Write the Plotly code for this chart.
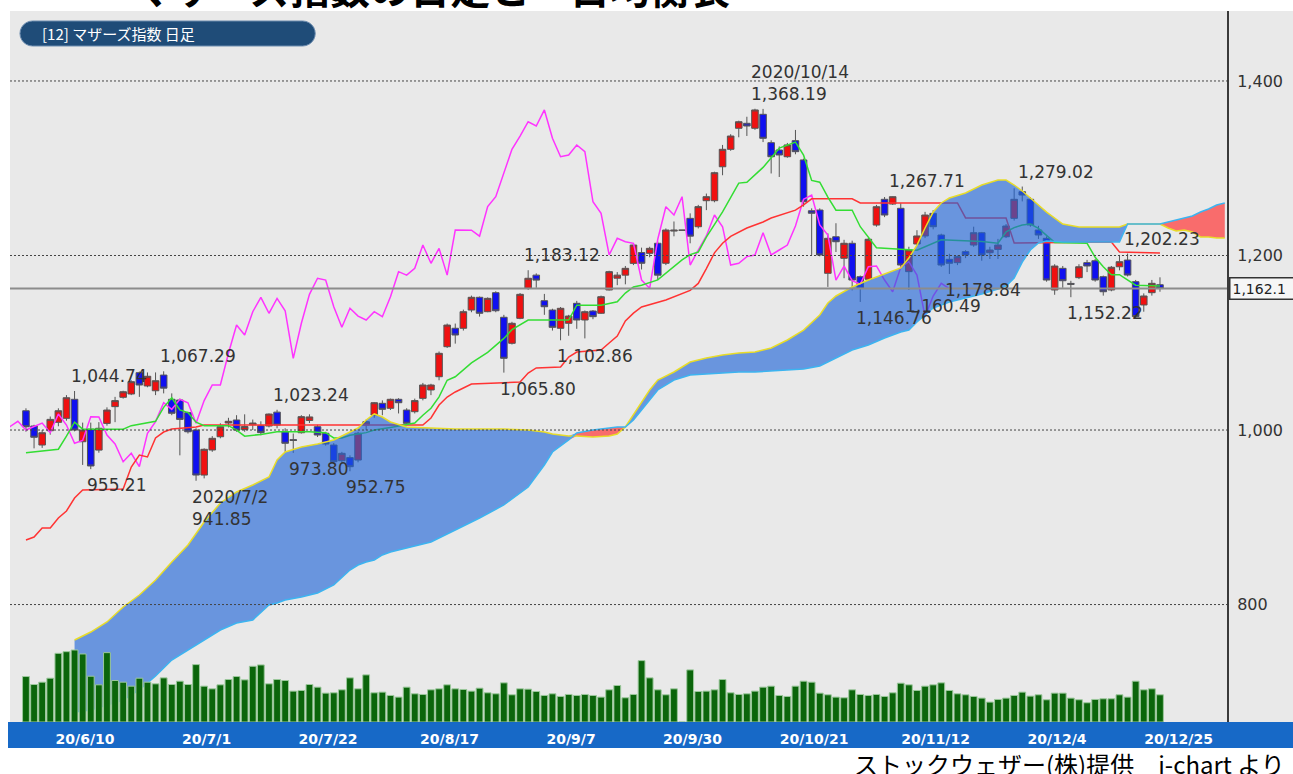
import math
import plotly.graph_objects as go

# ---------------- data ----------------
opens = [
    1022.1, 1004.6, 982.8, 999.2, 1008.8, 1013.4, 1035.2, 986.6, 1001.0, 977.0,
    1007.6, 1026.8, 1037.5, 1041.3, 1065.7, 1050.5, 1045.0, 1063.0, 1035.2, 1034.4,
    1019.9, 1000.0, 948.4, 977.1, 992.3, 1008.0, 1011.5, 1000.5, 1006.0, 1005.0,
    1004.6, 1020.5, 998.0, 989.0, 996.9, 1011.0, 1003.8, 996.3, 982.8, 964.8,
    968.4, 965.6, 1005.7, 1017.2, 1030.6, 1024.9, 1035.2, 1022.9, 1021.0, 1036.3,
    1045.9, 1061.1, 1095.5, 1116.6, 1116.6, 1137.5, 1152.1, 1135.6, 1157.4, 1129.2,
    1099.4, 1128.0, 1162.4, 1177.5, 1148.2, 1137.5, 1116.6, 1122.3, 1145.2, 1126.1,
    1136.4, 1133.8, 1160.5, 1174.0, 1177.5, 1191.0, 1203.3, 1202.5, 1214.0, 1191.1,
    1228.0, 1229.0, 1242.6, 1233.0, 1262.8, 1262.8, 1301.7, 1321.7, 1345.8, 1351.5,
    1345.8, 1361.8, 1329.3, 1320.9, 1313.2, 1331.6, 1309.5, 1251.3, 1252.1, 1179.6,
    1221.5, 1196.8, 1214.0, 1175.7, 1172.8, 1234.9, 1264.4, 1259.0, 1254.1, 1181.5,
    1213.2, 1222.4, 1248.3, 1223.5, 1195.6, 1191.8, 1204.4, 1212.0, 1226.1, 1203.2,
    1207.0, 1221.5, 1242.6, 1273.1, 1264.4, 1229.2, 1219.7, 1160.5, 1185.3, 1168.0,
    1174.6, 1191.8, 1194.0, 1175.7, 1160.5, 1187.1, 1194.8, 1170.0, 1143.3, 1157.4,
    1166.5]
highs = [
    1024.9, 1006.0, 1000.0, 1015.5, 1024.9, 1040.0, 1044.74, 1008.5, 1008.5, 1009.0,
    1026.0, 1038.0, 1045.0, 1057.0, 1067.0, 1066.0, 1066.0, 1067.29, 1042.0, 1036.0,
    1021.0, 1002.0, 979.0, 993.0, 1007.7, 1014.0, 1017.0, 1018.0, 1012.0, 1010.0,
    1019.0, 1023.24, 1002.0, 996.0, 1017.0, 1018.0, 1006.0, 998.0, 985.0, 975.0,
    971.0, 998.0, 1012.0, 1032.0, 1034.0, 1036.0, 1036.5, 1025.0, 1036.0, 1054.0,
    1053.0, 1090.0, 1122.0, 1122.0, 1138.0, 1154.0, 1153.0, 1152.0, 1159.0, 1132.0,
    1124.0, 1157.0, 1183.12, 1179.5, 1156.0, 1139.0, 1141.0, 1132.0, 1148.0, 1137.0,
    1137.5, 1154.0, 1182.5, 1181.0, 1188.0, 1214.0, 1209.0, 1210.0, 1216.0, 1231.0,
    1239.0, 1229.0, 1248.3, 1258.0, 1271.0, 1296.0, 1326.7, 1339.0, 1354.5, 1359.0,
    1368.19, 1368.0, 1332.0, 1325.0, 1329.0, 1343.9, 1311.0, 1254.0, 1254.0, 1225.4,
    1237.0, 1218.0, 1217.0, 1177.0, 1220.0, 1258.0, 1267.0, 1267.71, 1260.0, 1210.0,
    1229.0, 1250.0, 1252.0, 1225.0, 1202.0, 1200.0, 1206.0, 1233.0, 1227.0, 1210.0,
    1219.0, 1236.0, 1277.0, 1279.02, 1267.0, 1234.0, 1222.0, 1190.0, 1188.0, 1171.0,
    1190.0, 1195.0, 1196.0, 1177.0, 1188.0, 1200.6, 1202.23, 1172.0, 1156.6, 1172.0,
    1175.0]
lows = [
    998.1, 979.0, 979.5, 994.7, 1004.3, 1010.7, 998.5, 960.0, 955.21, 974.0,
    1005.0, 1009.0, 1036.0, 1040.0, 1038.0, 1049.0, 1040.0, 1042.0, 1017.0, 971.0,
    996.0, 941.85, 944.6, 975.0, 990.5, 1003.0, 998.0, 998.0, 1000.0, 994.0,
    1003.0, 1002.0, 975.0, 973.80, 996.0, 1008.0, 992.0, 982.0, 961.0, 962.0,
    952.75, 963.0, 1000.0, 1014.0, 1017.0, 1023.0, 1019.0, 1006.0, 1019.0, 1034.0,
    1040.0, 1057.0, 1094.0, 1099.0, 1114.0, 1135.0, 1130.0, 1135.0, 1135.0, 1065.80,
    1098.0, 1127.0, 1160.5, 1163.0, 1132.0, 1114.0, 1102.86, 1108.0, 1116.0, 1105.0,
    1127.0, 1133.0, 1160.0, 1166.0, 1167.0, 1189.0, 1184.0, 1198.0, 1171.9, 1189.0,
    1222.0, 1229.0, 1214.0, 1231.0, 1252.0, 1261.0, 1292.0, 1320.0, 1335.5, 1337.0,
    1344.0, 1330.0, 1294.0, 1290.0, 1312.0, 1316.0, 1256.0, 1200.6, 1199.0, 1164.0,
    1204.0, 1174.0, 1160.0, 1146.76, 1171.0, 1233.0, 1244.0, 1258.0, 1185.0, 1160.49,
    1212.0, 1220.0, 1230.0, 1187.0, 1178.84, 1189.0, 1197.0, 1210.0, 1194.0, 1196.0,
    1196.0, 1220.0, 1240.0, 1262.0, 1233.0, 1219.0, 1170.0, 1155.0, 1163.0, 1152.22,
    1173.0, 1181.0, 1170.0, 1154.0, 1159.0, 1183.0, 1176.0, 1128.0, 1135.6, 1154.0,
    1158.5]
closes = [
    1003.8, 991.7, 996.9, 1012.2, 1022.1, 1037.0, 1000.0, 1000.0, 958.8, 1002.0,
    1022.9, 1033.7, 1043.9, 1055.4, 1051.6, 1061.6, 1056.5, 1048.0, 1019.2, 1012.2,
    998.0, 948.4, 977.9, 990.5, 1003.8, 1010.0, 1000.0, 1004.0, 1008.0, 997.0,
    1018.3, 1005.7, 984.8, 988.0, 1015.3, 1015.0, 994.3, 984.0, 963.7, 973.3,
    958.0, 996.3, 1009.6, 1031.3, 1023.7, 1035.2, 1031.3, 1007.7, 1033.7, 1051.6,
    1051.6, 1087.9, 1120.3, 1108.9, 1135.6, 1152.1, 1133.8, 1150.9, 1136.7, 1082.2,
    1122.3, 1155.5, 1173.9, 1171.8, 1141.3, 1117.7, 1139.5, 1130.6, 1126.1, 1135.6,
    1129.9, 1152.8, 1181.5, 1177.5, 1185.3, 1212.0, 1191.1, 1208.2, 1177.5, 1229.2,
    1229.0, 1229.0, 1222.2, 1256.0, 1267.4, 1294.9, 1321.7, 1336.9, 1353.3, 1348.4,
    1366.8, 1334.3, 1313.2, 1315.2, 1326.7, 1319.0, 1261.6, 1248.4, 1200.6, 1219.7,
    1215.8, 1214.0, 1171.9, 1162.4, 1218.6, 1255.9, 1246.4, 1267.4, 1189.1, 1206.3,
    1222.4, 1246.4, 1233.0, 1189.1, 1191.1, 1198.7, 1200.6, 1226.1, 1200.6, 1206.3,
    1212.0, 1233.8, 1264.4, 1269.3, 1235.0, 1223.5, 1171.9, 1187.9, 1171.1, 1167.0,
    1187.1, 1188.0, 1171.9, 1158.5, 1186.5, 1192.9, 1177.6, 1130.0, 1153.6, 1168.1,
    1162.1]
volume = [
    137, 113, 120, 132, 207, 212, 217, 205, 138, 112,
    209, 125, 120, 108, 132, 120, 115, 133, 113, 123,
    113, 173, 108, 100, 112, 128, 137, 127, 168, 172,
    115, 128, 125, 93, 95, 113, 105, 87, 88, 97,
    133, 100, 142, 88, 90, 80, 75, 105, 85, 83,
    97, 100, 112, 100, 98, 93, 102, 88, 85, 118,
    82, 100, 99, 92, 80, 85, 77, 83, 80, 83,
    80, 75, 97, 110, 73, 83, 185, 133, 97, 82,
    100, 0, 157, 92, 93, 97, 128, 88, 83, 85,
    93, 105, 108, 80, 77, 108, 123, 120, 87, 82,
    75, 73, 97, 83, 80, 83, 77, 88, 117, 112,
    95, 108, 112, 118, 95, 85, 82, 77, 72, 60,
    68, 72, 80, 90, 78, 82, 67, 87, 87, 72,
    67, 58, 68, 70, 70, 82, 75, 123, 97, 100,
    82]

# 転換線 (tenkan) and 基準線 (kijun): (day index, value)
tenkan = [(0, 974), (4, 978), (5, 993), (6, 1009), (7, 1001), (12, 1001), (13, 1005),
          (16, 1010), (17, 1026), (18, 1037), (19, 1023), (20, 1020), (21, 1009), (22, 1005),
          (25, 1005), (26, 1000), (27, 993), (29, 995), (31, 998), (35, 998), (37, 997),
          (38, 991), (39, 991), (40, 994), (42, 997), (43, 1000), (45, 1003), (48, 1008),
          (49, 1017), (50, 1025), (51, 1038), (52, 1057), (53, 1061), (55, 1077), (57, 1089),
          (59, 1105), (60, 1115), (62, 1126), (67, 1126), (68, 1143), (71, 1143), (73, 1147),
          (74, 1157), (75, 1164), (76, 1166), (78, 1172), (81, 1195), (82, 1201), (83, 1204),
          (84, 1221), (86, 1250), (88, 1283), (89, 1284), (91, 1301), (93, 1323), (95, 1330),
          (96, 1315), (97, 1286), (98, 1284), (99, 1267), (100, 1252), (102, 1252), (103, 1233),
          (105, 1209), (110, 1206), (111, 1210), (113, 1218), (118, 1216), (120, 1214),
          (121, 1227), (122, 1232), (123, 1235), (124, 1236), (125, 1231), (127, 1215),
          (131, 1214), (132, 1198), (133, 1187), (134, 1178), (135, 1178), (137, 1166), (140, 1165)]
kijun = [(0, 874.0), (1, 877.4), (2, 887.7), (3, 887.7), (4, 899.2), (5, 907.2), (6, 922.1),
         (7, 931.3), (12, 932.4), (13, 957.6), (14, 971.4), (15, 969.1), (16, 990.9), (17, 997.7),
         (18, 1001.2), (21, 1003.5), (22, 1005.8), (49, 1005.8), (50, 1013.8), (51, 1028.7),
         (52, 1037.8), (53, 1043.6), (55, 1052.7), (61, 1055.0), (62, 1065.3), (63, 1071.1),
         (66, 1072.2), (67, 1083.7), (68, 1089.4), (71, 1091.7), (72, 1099.7), (73, 1107.7),
         (74, 1125.0), (75, 1134.0), (76, 1141.0), (79, 1149.0), (82, 1160.0), (83, 1168.0),
         (84, 1185.0), (85, 1203.0), (86, 1214.0), (87, 1222.0), (89, 1231.5), (91, 1238.4),
         (92, 1243.0), (94, 1248.7), (95, 1252.0), (96, 1258.0), (97, 1265.0), (102, 1265.0),
         (103, 1260.2), (115, 1260.2), (116, 1243.0), (121, 1243.0), (122, 1214.3),
         (134, 1215.5), (135, 1204.0), (140, 1202.9)]

# 先行スパン A / B (already shifted forward on the day index)
cloud_idx = [6, 8, 10, 12, 14, 16, 18, 20, 22, 24, 26, 28, 30, 31, 32, 34, 36, 38, 40, 41,
             42, 43, 44, 45, 47, 50, 53, 56, 59, 62, 64, 65, 67, 68, 70, 72, 73, 74, 75, 76,
             77, 78, 80, 82, 84, 86, 88, 90, 92, 94, 96, 98, 99, 100, 102, 104, 106, 108, 109, 110,
             111, 112, 113, 114, 116, 118, 120, 121, 122, 123, 124, 125, 126, 128, 130, 132, 134, 135, 136, 138,
             140, 141, 142, 143, 144, 145, 146, 147, 148]
senkou_a = [759.4, 768.5, 780.0, 797.2, 810.9, 828.1, 848.7, 868.2, 894.6, 916.4,
            929.0, 937.0, 946.2, 965.6, 974.8, 980.5, 984.0, 988.6, 997.7, 1002.3,
            1011.5, 1018.4, 1014.9, 1009.2, 1003.5, 1002.3, 1001.2, 1001.2, 1001.2, 1000.0,
            997.7, 995.4, 993.1, 993.1, 992.0, 993.1, 995.4, 1003.5, 1017.2, 1032.1,
            1045.9, 1057.3, 1066.5, 1077.9, 1082.5, 1086.0, 1088.3, 1089.4, 1094.0, 1103.2,
            1114.6, 1131.8, 1145.6, 1153.6, 1163.9, 1171.9, 1178.8, 1185.7, 1197.1, 1212.0,
            1231.5, 1249.8, 1260.2, 1265.9, 1271.6, 1280.8, 1286.5, 1286.5, 1280.8, 1273.9,
            1265.9, 1257.9, 1249.8, 1236.1, 1232.7, 1232.7, 1232.7, 1232.7, 1236.1, 1236.1,
            1236.1, 1231.5, 1228.1, 1229.2, 1226.9, 1221.2, 1221.2, 1220.1, 1220.1]
senkou_b = [676.8, 679.1, 684.9, 690.6, 702.1, 718.1, 736.4, 747.9, 759.4, 770.8,
            778.8, 782.3, 799.5, 801.8, 805.2, 808.6, 813.2, 822.4, 839.6, 845.3,
            848.7, 851.0, 856.8, 860.2, 864.8, 871.7, 885.4, 899.2, 914.1, 934.7,
            959.9, 974.8, 988.6, 996.6, 1000.0, 1002.3, 1003.5, 1003.5, 1011.5, 1022.9,
            1034.4, 1045.9, 1057.3, 1063.0, 1064.2, 1065.3, 1066.5, 1066.5, 1067.6, 1068.8,
            1069.9, 1073.4, 1077.9, 1082.5, 1091.7, 1097.4, 1105.5, 1112.3, 1114.6, 1123.8,
            1131.8, 1139.8, 1143.3, 1146.7, 1151.3, 1155.9, 1161.6, 1165.0, 1174.2, 1192.5,
            1206.3, 1214.3, 1216.6, 1215.5, 1215.5, 1215.5, 1215.5, 1215.5, 1236.1, 1236.1,
            1236.1, 1238.4, 1240.7, 1243.0, 1245.3, 1249.8, 1253.3, 1257.9, 1260.2]

tick_index = [5, 20, 35, 50, 65, 80, 95, 110, 125, 140]
tick_labels = ["20/6/10", "20/7/1", "20/7/22", "20/8/17", "20/9/7",
               "20/9/30", "20/10/21", "20/11/12", "20/12/4", "20/12/25"]
price_ticks = [800, 1000, 1200, 1400]
price_tick_labels = ["800", "1,000", "1,200", "1,400"]
last_price = 1162.1

high_notes = [(6, 1044.74, ""), (17, 1067.29, ""), (31, 1023.24, ""), (62, 1183.12, ""),
              (90, 1368.19, "2020/10/14"), (107, 1267.71, ""), (123, 1279.02, ""), (136, 1202.23, "")]
low_notes = [(8, 955.21, ""), (21, 941.85, "2020/7/2"), (33, 973.80, ""), (40, 952.75, ""),
             (59, 1065.80, ""), (66, 1102.86, ""), (103, 1146.76, ""), (109, 1160.49, ""),
             (114, 1178.84, ""), (129, 1152.22, "")]

CHIKOU_SHIFT = 26
TITLE = "マザーズ指数の日足と一目均衡表"
PANEL_LABEL = "[12] マザーズ指数 日足"
FOOTER = "ストックウェザー(株)提供　i-chart より"

# ---------------- geometry helpers (pixel layout of the page) ----------------
W, H = 1293, 774
PL, PR, PT, PB = 10, 1230, 11, 722          # plot area in pixels
PW, PH = PR - PL, PB - PT


def paper(px, py):
    return (px - PL) / PW, (PB - py) / PH


days = list(range(len(closes)))
FONT = "DejaVu Sans"
JFONT = "Noto Sans CJK JP"

fig = go.Figure()

# candles
fig.add_trace(go.Candlestick(
    x=days, open=opens, high=highs, low=lows, close=closes,
    increasing=dict(fillcolor="#f01010", line=dict(color="#555555", width=1)),
    decreasing=dict(fillcolor="#1010f0", line=dict(color="#555555", width=1)),
    whiskerwidth=0, showlegend=False, hoverinfo="skip"))

# 遅行スパン (close shifted back 26 days)
fig.add_trace(go.Scatter(x=[d - CHIKOU_SHIFT for d in days], y=closes, mode="lines",
                         line=dict(color="#ff33ff", width=1.5), showlegend=False, hoverinfo="skip"))
# 基準線
fig.add_trace(go.Scatter(x=[p[0] for p in kijun], y=[p[1] for p in kijun], mode="lines",
                         line=dict(color="#ff3333", width=1.5), showlegend=False, hoverinfo="skip"))
# 転換線
fig.add_trace(go.Scatter(x=[p[0] for p in tenkan], y=[p[1] for p in tenkan], mode="lines",
                         line=dict(color="#33dd33", width=1.5), showlegend=False, hoverinfo="skip"))

# cloud (blue where A above B, red where B above A)
upper = [max(a, b) for a, b in zip(senkou_a, senkou_b)]
lower = [min(a, b) for a, b in zip(senkou_a, senkou_b)]
fig.add_trace(go.Scatter(x=cloud_idx, y=senkou_b, mode="lines", line=dict(width=0),
                         showlegend=False, hoverinfo="skip"))
fig.add_trace(go.Scatter(x=cloud_idx, y=upper, mode="lines", line=dict(width=0),
                         fill="tonexty", fillcolor="rgba(30,100,215,0.63)",
                         showlegend=False, hoverinfo="skip"))
fig.add_trace(go.Scatter(x=cloud_idx, y=senkou_b, mode="lines", line=dict(width=0),
                         showlegend=False, hoverinfo="skip"))
fig.add_trace(go.Scatter(x=cloud_idx, y=lower, mode="lines", line=dict(width=0),
                         fill="tonexty", fillcolor="rgba(255,60,60,0.72)",
                         showlegend=False, hoverinfo="skip"))
fig.add_trace(go.Scatter(x=cloud_idx, y=senkou_a, mode="lines",
                         line=dict(color="#e8dc28", width=1.5), showlegend=False, hoverinfo="skip"))
fig.add_trace(go.Scatter(x=cloud_idx, y=senkou_b, mode="lines",
                         line=dict(color="#3cb4f0", width=1.5), showlegend=False, hoverinfo="skip"))

# volume on an overlaid hidden axis
VMAX = max(volume)
fig.add_trace(go.Bar(x=days, y=volume, yaxis="y2", width=0.84,
                     marker=dict(color="#0b650b", line=dict(color="#9cc89c", width=1)),
                     showlegend=False, hoverinfo="skip"))

# ---------------- shapes ----------------
shapes = []
shapes.append(dict(type="rect", xref="paper", yref="paper", x0=1, x1=1.06, y0=0, y1=1,
                   fillcolor="#e9e9e9", line=dict(width=0), layer="below"))
bx0, by0 = paper(8, 748)
shapes.append(dict(type="rect", xref="paper", yref="paper", x0=bx0, x1=1.06, y0=by0, y1=0,
                   fillcolor="#1769c7", line=dict(width=0), layer="below"))
for v in price_ticks:
    shapes.append(dict(type="line", xref="paper", yref="y", x0=0, x1=1, y0=v, y1=v,
                       line=dict(color="#444444", width=1, dash="2px,2px"), layer="above"))
shapes.append(dict(type="line", xref="paper", yref="y", x0=0, x1=1, y0=last_price, y1=last_price,
                   line=dict(color="#8c8c8c", width=2), layer="above"))

# rounded panel label
r = 12.5
cy = 33.5
lx, rx = 20 + r, 316 - r
pts = []
for k in range(13):
    t = math.radians(-90 + 15 * k)
    pts.append(paper(rx + r * math.cos(t), cy + r * math.sin(t)))
for k in range(13):
    t = math.radians(90 + 15 * k)
    pts.append(paper(lx + r * math.cos(t), cy + r * math.sin(t)))
path = "M " + " L ".join(f"{x:.5f},{y:.5f}" for x, y in pts) + " Z"
shapes.append(dict(type="path", xref="paper", yref="paper", path=path,
                   fillcolor="#1f4c78", line=dict(color="#6d8db0", width=1), layer="above"))

# ---------------- annotations ----------------
ann = []
for d, v, date in high_notes:
    txt = f"{v:,.2f}" if not date else f"{date}<br>{v:,.2f}"
    ann.append(dict(x=d, y=v, xref="x", yref="y", text=txt, showarrow=False,
                    xanchor="left", yanchor="bottom", align="left", xshift=-6, yshift=3,
                    font=dict(family=FONT, size=17, color="#333333")))
for d, v, date in low_notes:
    txt = f"{v:,.2f}" if not date else f"{date}<br>{v:,.2f}"
    ann.append(dict(x=d, y=v, xref="x", yref="y", text=txt, showarrow=False,
                    xanchor="left", yanchor="top", align="left", xshift=-6, yshift=-4,
                    font=dict(family=FONT, size=17, color="#333333")))

px_, py_ = paper(40, 33.5)
ann.append(dict(x=px_, y=py_, xref="paper", yref="paper", text=PANEL_LABEL, showarrow=False,
                xanchor="left", yanchor="middle", font=dict(family=JFONT, size=15, color="white")))

bx, _ = paper(1232, 0)
ann.append(dict(x=bx, y=last_price, xref="paper", yref="y", text=f"{last_price:,.1f}     ",
                showarrow=False, xanchor="left", yanchor="middle",
                bgcolor="#f6f6f6", bordercolor="#333333", borderwidth=1.5, borderpad=2,
                font=dict(family=FONT, size=14, color="#222222")))

tx, ty = paper(432, -13)
ann.append(dict(x=tx, y=ty, xref="paper", yref="paper", text=f"<b>{TITLE}</b>", showarrow=False,
                xanchor="center", yanchor="middle", font=dict(family=JFONT, size=40, color="black")))

fx, fy = paper(1290, 763)
ann.append(dict(x=fx, y=fy, xref="paper", yref="paper", text=FOOTER, showarrow=False,
                xanchor="right", yanchor="middle", font=dict(family=JFONT, size=24, color="black")))

TICK_OFFSET = 2.3
fig.update_layout(
    width=W, height=H,
    margin=dict(l=PL, r=W - PR, t=PT, b=H - PB, pad=0),
    paper_bgcolor="white", plot_bgcolor="#e9e9e9",
    boxgap=0.1, boxgroupgap=0.1, barmode="overlay",
    xaxis=dict(range=[(PL - 26) / 8.12, (PR - 26) / 8.12], showgrid=False, zeroline=False,
               showline=False, rangeslider=dict(visible=False),
               tickmode="array", tickvals=[i + TICK_OFFSET for i in tick_index], ticktext=tick_labels,
               ticks="outside", ticklen=4, tickcolor="rgba(0,0,0,0)",
               tickfont=dict(family=FONT, size=14, color="white", weight="bold")),
    yaxis=dict(range=[665.4, 1480.2], side="right", showgrid=False, zeroline=False,
               showline=True, linecolor="#3a3a3a", linewidth=2,
               tickmode="array", tickvals=price_ticks, ticktext=price_tick_labels,
               ticks="outside", ticklen=5, tickcolor="rgba(0,0,0,0)",
               tickfont=dict(family=FONT, size=16, color="#333333")),
    yaxis2=dict(overlaying="y", range=[0, VMAX * PH / 72], visible=False),
    shapes=shapes, annotations=ann, showlegend=False,
)

fig.write_html("out.html", config={"displayModeBar": False},
               post_script="document.body.style.margin='0px';document.body.style.overflow='hidden';")
